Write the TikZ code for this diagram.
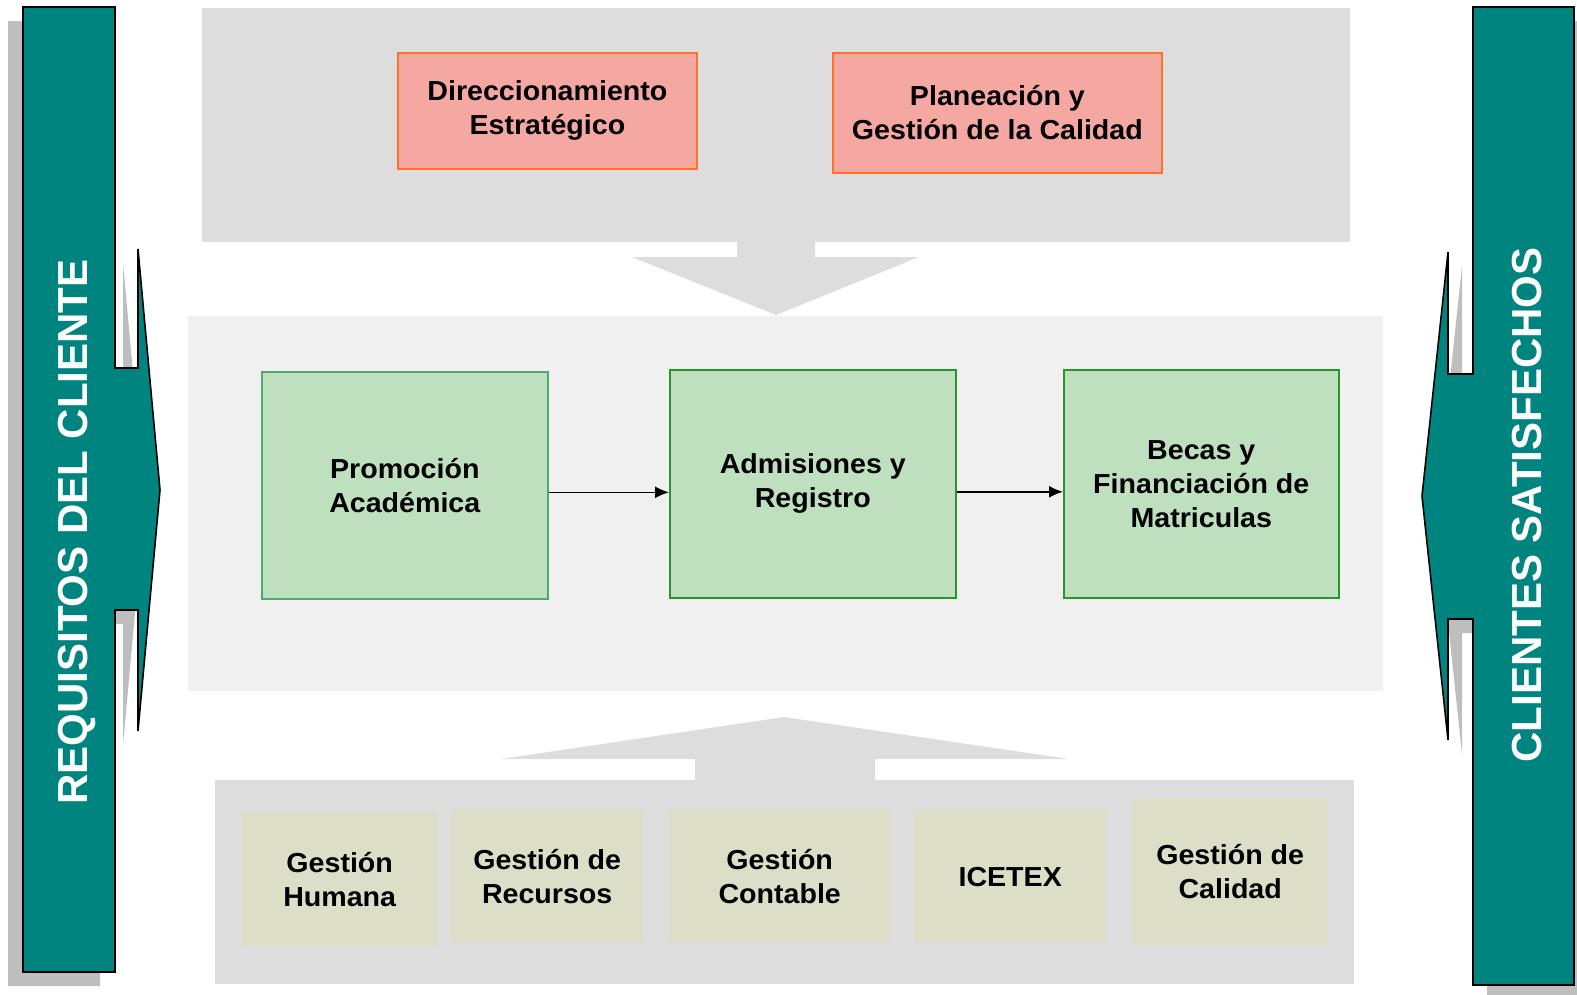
\documentclass[tikz,border=0pt]{standalone}
\usepackage{fontspec}
\setmainfont{Liberation Sans}
\newfontfamily\boxfont{Liberation Sans}[FakeStretch=1.04]
\usetikzlibrary{arrows.meta}
\definecolor{tealA}{HTML}{00847F}
\definecolor{shadowG}{HTML}{BEBEBE}
\definecolor{panelG}{HTML}{DDDDDD}
\definecolor{panelL}{HTML}{F0F0F0}
\definecolor{salmon}{HTML}{F5A8A1}
\definecolor{orangeB}{HTML}{FF7124}
\definecolor{greenF}{HTML}{BEE0BE}
\definecolor{greenA}{HTML}{4CAA6E}
\definecolor{greenB}{HTML}{2A932A}
\definecolor{beige}{HTML}{DDDEC8}
\begin{document}
\begin{tikzpicture}[x=1pt,y=-1pt,
  txt/.style={font=\boxfont\bfseries\fontsize{27.5}{34}\selectfont, align=center, text=black},
  topbox/.style={txt, draw=orangeB, line width=1.8pt, fill=salmon, anchor=north west, inner sep=0pt},
  midbox/.style={txt, draw=greenB, line width=1.6pt, fill=greenF, anchor=north west, inner sep=0pt},
  botbox/.style={txt, fill=beige, anchor=north west, inner sep=0pt},
  sidetext/.style={font=\bfseries\fontsize{42}{50}\selectfont, text=white, rotate=90, inner sep=0pt, text depth=0pt},
  conn/.style={line width=1.5pt, -{Latex[length=14pt,width=12pt]}},
  teal shape/.style={fill=tealA, draw=black, line width=1.6pt, line join=miter}
]
\useasboundingbox (0,0) rectangle (1577,994);

% shadows
\fill[shadowG, shift={(-15,14)}] (23,7) -- (115,7) -- (115,368) -- (138,368) -- (138,249) -- (160,490) -- (138,731) -- (138,610) -- (115,610) -- (115,972) -- (23,972) -- cycle;
\fill[shadowG, shift={(14,14)}] (1473,7) -- (1574,7) -- (1574,985) -- (1473,985) -- (1473,619) -- (1448,619) -- (1448,740) -- (1422,496) -- (1448,252) -- (1448,374) -- (1473,374) -- cycle;

% side arrows
\draw[teal shape] (23,7) -- (115,7) -- (115,368) -- (138,368) -- (138,249) -- (160,490) -- (138,731) -- (138,610) -- (115,610) -- (115,972) -- (23,972) -- cycle;
\draw[teal shape] (1473,7) -- (1574,7) -- (1574,985) -- (1473,985) -- (1473,619) -- (1448,619) -- (1448,740) -- (1422,496) -- (1448,252) -- (1448,374) -- (1473,374) -- cycle;
\node[sidetext] (req) at (72.5,532) {REQUISITOS DEL CLIENTE};
\node[sidetext] (sat) at (1526.5,505) {CLIENTES SATISFECHOS};

% panels
\fill[panelG] (202,8) rectangle (1350,242);
\fill[panelG] (737,241) -- (815,241) -- (815,257) -- (919,257) -- (776,315) -- (632,257) -- (737,257) -- cycle;
\fill[panelL] (188,316) rectangle (1383,691);
\fill[panelG] (695,781) -- (695,759) -- (501,759) -- (784,717) -- (1069,759) -- (875,759) -- (875,781) -- cycle;
\fill[panelG] (215,780) rectangle (1354,984);

% top boxes
\node[topbox, minimum width=299pt, minimum height=116pt] (dir) at (397,52) {Direccionamiento\\Estratégico};
\node[topbox, minimum width=329pt, minimum height=120pt] (plan) at (832,52) {Planeación y\\Gestión de la Calidad};

% middle boxes
\node[midbox, draw=greenA, minimum width=286pt, minimum height=227pt] (prom) at (261,371) {Promoción\\Académica};
\node[midbox, minimum width=286pt, minimum height=228pt] (adm) at (669,369) {Admisiones y\\Registro};
\node[midbox, minimum width=275pt, minimum height=228pt] (bec) at (1063,369) {Becas y\\Financiación de\\Matriculas};
\draw[conn] ([yshift=-7pt]prom.east) -- ([yshift=-7pt]prom.east -| adm.west);
\draw[conn] ([yshift=-8pt]adm.east) -- ([yshift=-8pt]adm.east -| bec.west);

% bottom boxes
\node[botbox, minimum width=195pt, minimum height=134pt] (gh) at (242,812) {Gestión\\Humana};
\node[botbox, minimum width=192pt, minimum height=134pt] (gr) at (451,809) {Gestión de\\Recursos};
\node[botbox, minimum width=221pt, minimum height=134pt] (gc) at (669,809) {Gestión\\Contable};
\node[botbox, minimum width=192pt, minimum height=133pt] (ice) at (914,810) {ICETEX};
\node[botbox, minimum width=196pt, minimum height=147pt] (gq) at (1132,798) {Gestión de\\Calidad};
\end{tikzpicture}
\end{document}
